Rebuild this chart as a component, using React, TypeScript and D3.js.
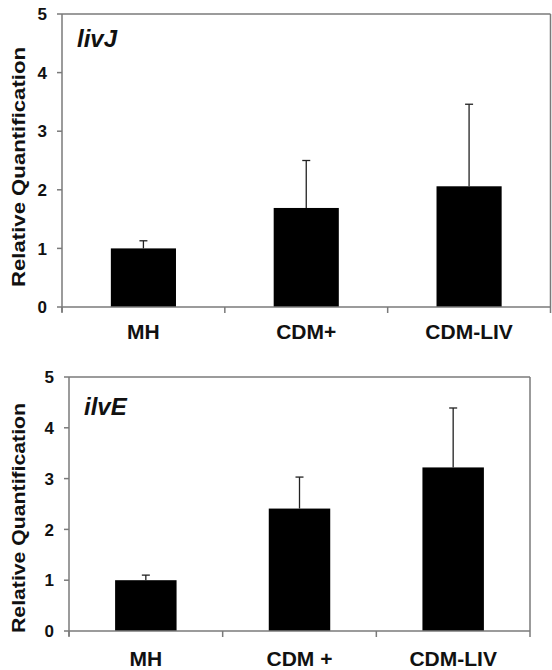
import React from "react";
import * as d3 from "d3";

const categoriesTop = ["MH", "CDM+", "CDM-LIV"];
const categoriesBottom = ["MH", "CDM +", "CDM-LIV"];
const livJValues = [1.0, 1.69, 2.06];
const livJErrorTop = [1.13, 2.5, 3.46];
const ilvEValues = [1.0, 2.41, 3.22];
const ilvEErrorTop = [1.1, 3.03, 4.39];
const yTicks = [0, 1, 2, 3, 4, 5];

const FONT = "'Liberation Sans', Arial, Helvetica, sans-serif";
const AXIS = "#7a7a7a";

type PanelProps = {
  gene: string;
  cats: string[];
  values: number[];
  errTop: number[];
  left: number;
  right: number;
  top: number;
  bottom: number;
  labelBaseline: number;
  titleY: number;
  titleLen: number;
  geneBaseline: number;
};

function Panel(p: PanelProps) {
  const x = d3
    .scaleBand<string>()
    .domain(p.cats)
    .range([p.left, p.right])
    .paddingInner(0.6)
    .paddingOuter(0.3);
  const y = d3.scaleLinear().domain([0, 5]).range([p.bottom, p.top]);
  const step = (p.right - p.left) / p.cats.length;
  const bounds = d3.range(p.cats.length + 1).map((i) => p.left + i * step);
  return (
    <g>
      <line x1={p.left} x2={p.right} y1={p.top} y2={p.top} stroke={AXIS} strokeWidth={1.5} />
      <line x1={p.right} x2={p.right} y1={p.top} y2={p.bottom} stroke={AXIS} strokeWidth={1.5} />
      {p.cats.map((c, i) => (
        <rect
          key={c}
          x={x(c)!}
          y={y(p.values[i])}
          width={x.bandwidth()}
          height={y(0) - y(p.values[i])}
          fill="#000"
        />
      ))}
      {p.cats.map((c, i) => {
        const cx = x(c)! + x.bandwidth() / 2;
        return (
          <g key={"e" + c} stroke="#222" strokeWidth={1.3}>
            <line x1={cx} x2={cx} y1={y(p.values[i])} y2={y(p.errTop[i])} />
            <line x1={cx - 4} x2={cx + 4} y1={y(p.errTop[i])} y2={y(p.errTop[i])} />
          </g>
        );
      })}
      <line x1={p.left} x2={p.left} y1={p.top} y2={p.bottom + 5} stroke={AXIS} strokeWidth={1.5} />
      {yTicks.map((t) => (
        <g key={t}>
          <line x1={p.left - 5} x2={p.left} y1={y(t)} y2={y(t)} stroke={AXIS} strokeWidth={1.5} />
          <text
            x={p.left - 15}
            y={y(t)}
            dy="0.36em"
            textAnchor="end"
            fontFamily={FONT}
            fontWeight="bold"
            fontSize={17}
            fill="#111"
          >
            {t}
          </text>
        </g>
      ))}
      <line x1={p.left} x2={p.right} y1={p.bottom} y2={p.bottom} stroke={AXIS} strokeWidth={1.5} />
      {bounds.map((b, i) => (
        <line key={i} x1={b} x2={b} y1={p.bottom} y2={p.bottom + 6} stroke={AXIS} strokeWidth={1.5} />
      ))}
      {p.cats.map((c) => (
        <text
          key={"l" + c}
          x={x(c)! + x.bandwidth() / 2}
          y={p.labelBaseline}
          textAnchor="middle"
          fontFamily={FONT}
          fontWeight="bold"
          fontSize={21}
          fill="#111"
        >
          {c}
        </text>
      ))}
      <text
        transform={`translate(25,${p.titleY}) rotate(-90)`}
        textAnchor="middle"
        fontFamily={FONT}
        fontWeight="bold"
        fontSize={19}
        textLength={p.titleLen}
        lengthAdjust="spacingAndGlyphs"
        fill="#111"
      >
        Relative Quantification
      </text>
      <text
        x={p.left + 15}
        y={p.geneBaseline}
        fontFamily={FONT}
        fontWeight="bold"
        fontStyle="italic"
        fontSize={24}
        fill="#111"
      >
        {p.gene}
      </text>
    </g>
  );
}

export default function App() {
  return (
    <svg
      width={552}
      height={670}
      style={{ position: "absolute", left: 0, top: 0, background: "#fff" }}
    >
      <rect width={552} height={670} fill="#fff" />
      <Panel
        gene="livJ"
        cats={categoriesTop}
        values={livJValues}
        errTop={livJErrorTop}
        left={62}
        right={550.5}
        top={14}
        bottom={307}
        labelBaseline={339}
        titleY={167}
        titleLen={240}
        geneBaseline={47}
      />
      <Panel
        gene="ilvE"
        cats={categoriesBottom}
        values={ilvEValues}
        errTop={ilvEErrorTop}
        left={69}
        right={530}
        top={377}
        bottom={631}
        labelBaseline={666}
        titleY={518}
        titleLen={230}
        geneBaseline={415}
      />
    </svg>
  );
}
